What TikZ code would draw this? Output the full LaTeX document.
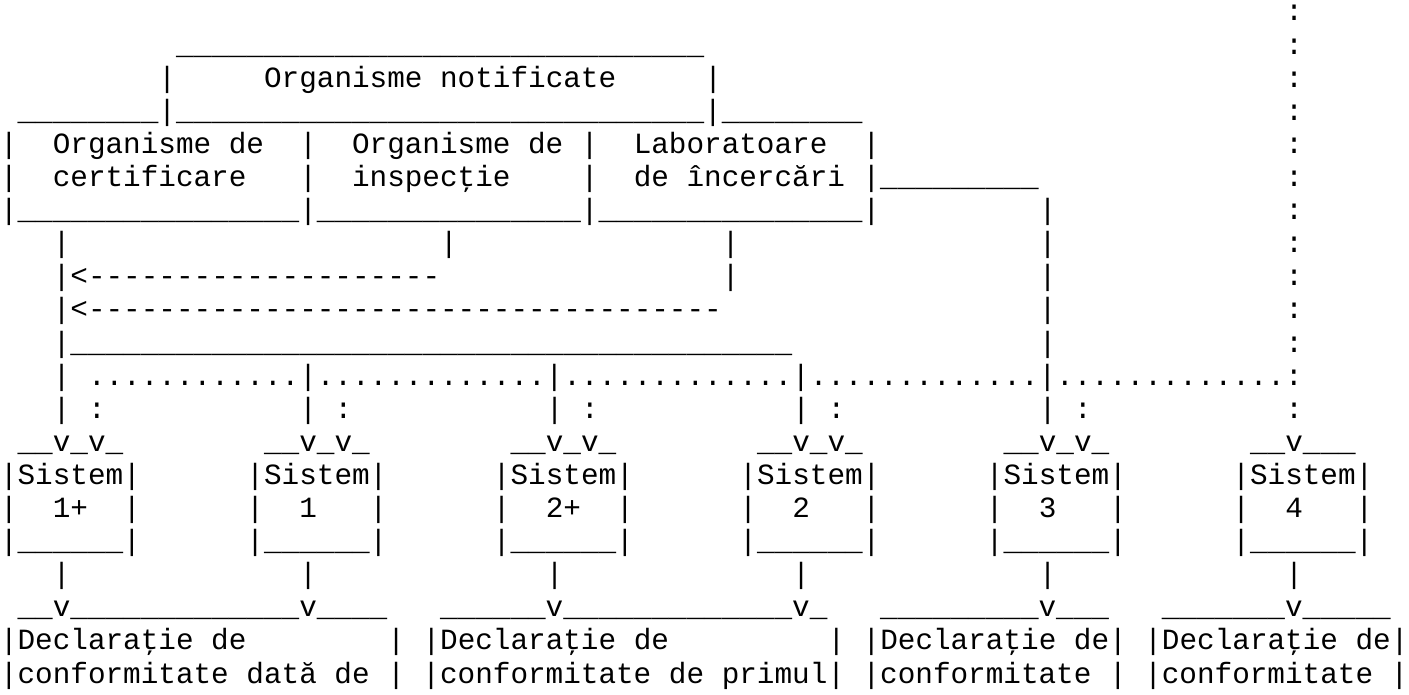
\documentclass[tikz,border=0pt]{standalone}
\usepackage{fontspec}
\usepackage{tikz}
\usepackage{xcolor}
\newfontfamily\asciifont{Liberation Mono}
\newlength\cw
\settowidth{\cw}{\asciifont\fontsize{14.67pt}{16.55pt}\selectfont M}
\newcommand\sk[1]{\hspace*{#1\cw}}
\newcommand\rep[2]{\foreach \rr in {1,...,#1}{#2}}
\newcommand\us[1]{\rep{#1}{\_}}
\newcommand\ds[1]{\rep{#1}{-}}
\newcommand\dt[1]{\rep{#1}{.}}
\begin{document}
\begin{tikzpicture}[y=-16.55pt, row/.style = {anchor=base west, inner sep=0pt, outer sep=0pt, yshift=-10.5pt, font=\asciifont\fontsize{14.67pt}{16.55pt}\selectfont}]
\fill[white] (0pt,0pt) rectangle (704.5pt,-347.5pt);
\useasboundingbox (0pt,0pt) rectangle (704.5pt,-347.5pt);
\node[row] (1) at (0,0) {\sk{73}:};
\node[row] (2) at (0,1) {\sk{10}\us{30}\sk{33}:};
\node[row] (3) at (0,2) {\sk{9}|\sk{5}Organisme notificate\sk{5}|\sk{32}:};
\node[row] (4) at (0,3) {\sk{1}\us{8}|\us{30}|\us{8}\sk{24}:};
\node[row] (5) at (0,4) {|\sk{2}Organisme de\sk{2}|\sk{2}Organisme de\sk{1}|\sk{2}Laboratoare\sk{2}|\sk{23}:};
\node[row] (6) at (0,5) {|\sk{2}certificare\sk{3}|\sk{2}inspecţie\sk{4}|\sk{2}de încercări\sk{1}|\us{9}\sk{14}:};
\node[row] (7) at (0,6) {|\us{16}|\us{15}|\us{15}|\sk{9}|\sk{13}:};
\node[row] (8) at (0,7) {\sk{3}|\sk{21}|\sk{15}|\sk{17}|\sk{13}:};
\node[row] (9) at (0,8) {\sk{3}|<\ds{20}\sk{16}|\sk{17}|\sk{13}:};
\node[row] (10) at (0,9) {\sk{3}|<\ds{36}\sk{18}|\sk{13}:};
\node[row] (11) at (0,10) {\sk{3}|\us{41}\sk{14}|\sk{13}:};
\node[row] (12) at (0,11) {\sk{3}|\sk{1}\dt{12}|\dt{13}|\dt{13}|\dt{13}|\dt{13}:};
\node[row] (13) at (0,12) {\sk{3}|\sk{1}:\sk{11}|\sk{1}:\sk{11}|\sk{1}:\sk{11}|\sk{1}:\sk{11}|\sk{1}:\sk{11}:};
\node[row] (14) at (0,13) {\sk{1}\us{2}v\us{1}v\us{1}\sk{8}\us{2}v\us{1}v\us{1}\sk{8}\us{2}v\us{1}v\us{1}\sk{8}\us{2}v\us{1}v\us{1}\sk{8}\us{2}v\us{1}v\us{1}\sk{8}\us{2}v\us{3}};
\node[row] (15) at (0,14) {|Sistem|\sk{6}|Sistem|\sk{6}|Sistem|\sk{6}|Sistem|\sk{6}|Sistem|\sk{6}|Sistem|};
\node[row] (16) at (0,15) {|\sk{2}1+\sk{2}|\sk{6}|\sk{2}1\sk{3}|\sk{6}|\sk{2}2+\sk{2}|\sk{6}|\sk{2}2\sk{3}|\sk{6}|\sk{2}3\sk{3}|\sk{6}|\sk{2}4\sk{3}|};
\node[row] (17) at (0,16) {|\us{6}|\sk{6}|\us{6}|\sk{6}|\us{6}|\sk{6}|\us{6}|\sk{6}|\us{6}|\sk{6}|\us{6}|};
\node[row] (18) at (0,17) {\sk{3}|\sk{13}|\sk{13}|\sk{13}|\sk{13}|\sk{13}|};
\node[row] (19) at (0,18) {\sk{1}\us{2}v\us{13}v\us{4}\sk{3}\us{6}v\us{13}v\us{1}\sk{3}\us{9}v\us{3}\sk{3}\us{7}v\us{5}};
\node[row] (20) at (0,19) {|Declaraţie de\sk{8}|\sk{1}|Declaraţie de\sk{9}|\sk{1}|Declaraţie de|\sk{1}|Declaraţie de|};
\node[row] (21) at (0,20) {|conformitate dată de |\sk{1}|conformitate de primul|\sk{1}|conformitate |\sk{1}|conformitate |};
\end{tikzpicture}
\end{document}
